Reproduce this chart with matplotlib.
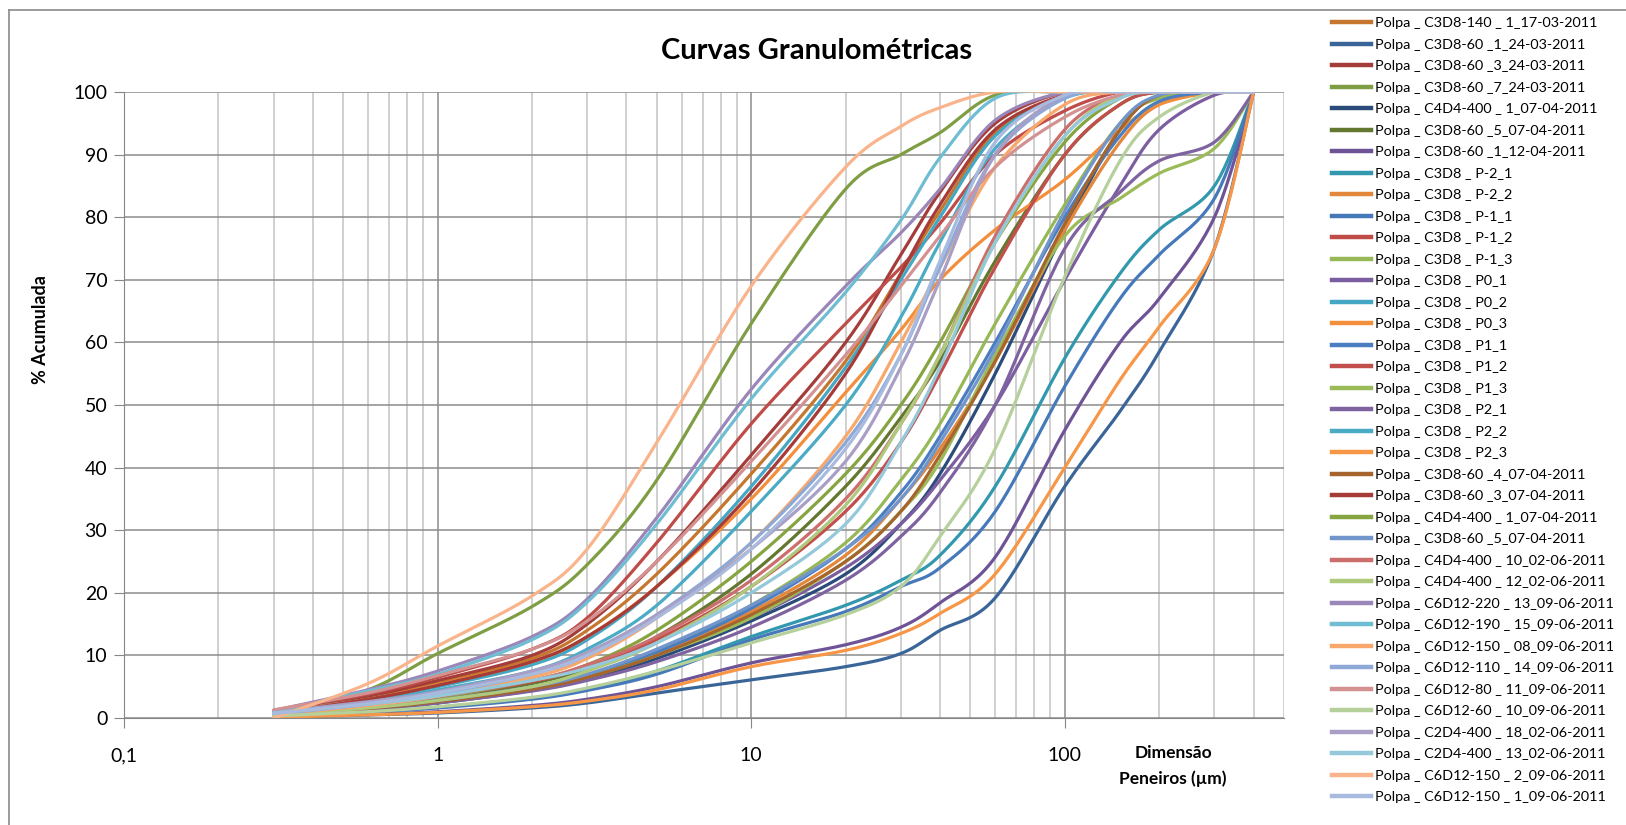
import numpy as np
import matplotlib
matplotlib.use('Agg')
import matplotlib.pyplot as plt
from matplotlib.lines import Line2D
from matplotlib.ticker import FixedLocator, FixedFormatter, NullFormatter

plt.rcParams['font.family'] = ['Lato', 'DejaVu Sans']

sizes = [0.3, 0.6, 1, 2, 3, 5, 10, 20, 30, 40, 60, 100, 150, 200, 300, 400]

labels = ['Polpa _ C3D8-140 _ 1_17-03-2011', 'Polpa _ C3D8-60 _1_24-03-2011', 'Polpa _ C3D8-60 _3_24-03-2011',
          'Polpa _ C3D8-60 _7_24-03-2011', 'Polpa _ C4D4-400 _ 1_07-04-2011', 'Polpa _ C3D8-60 _5_07-04-2011',
          'Polpa _ C3D8-60 _1_12-04-2011', 'Polpa _ C3D8 _ P-2_1', 'Polpa _ C3D8 _ P-2_2', 'Polpa _ C3D8 _ P-1_1',
          'Polpa _ C3D8 _ P-1_2', 'Polpa _ C3D8 _ P-1_3', 'Polpa _ C3D8 _ P0_1', 'Polpa _ C3D8 _ P0_2',
          'Polpa _ C3D8 _ P0_3', 'Polpa _ C3D8 _ P1_1', 'Polpa _ C3D8 _ P1_2', 'Polpa _ C3D8 _ P1_3',
          'Polpa _ C3D8 _ P2_1', 'Polpa _ C3D8 _ P2_2', 'Polpa _ C3D8 _ P2_3', 'Polpa _ C3D8-60 _4_07-04-2011',
          'Polpa _ C3D8-60 _3_07-04-2011', 'Polpa _ C4D4-400 _ 1_07-04-2011', 'Polpa _ C3D8-60 _5_07-04-2011',
          'Polpa _ C4D4-400 _ 10_02-06-2011', 'Polpa _ C4D4-400 _ 12_02-06-2011', 'Polpa _ C6D12-220 _ 13_09-06-2011',
          'Polpa _ C6D12-190 _ 15_09-06-2011', 'Polpa _ C6D12-150 _ 08_09-06-2011', 'Polpa _ C6D12-110 _ 14_09-06-2011',
          'Polpa _ C6D12-80 _ 11_09-06-2011', 'Polpa _ C6D12-60 _ 10_09-06-2011', 'Polpa _ C2D4-400 _ 18_02-06-2011',
          'Polpa _ C2D4-400 _ 13_02-06-2011', 'Polpa _ C6D12-150 _ 2_09-06-2011', 'Polpa _ C6D12-150 _ 1_09-06-2011']

colors = ['#C5762F', '#3A6599', '#A43D3A', '#7F9E44', '#2B4C7A', '#63772F', '#6E5496', '#3298AE', '#E3873A',
          '#4679BA', '#BF4C48', '#97B857', '#7C5EA0', '#44A7C3', '#F28E3C', '#4B7EC0', '#C24F4C', '#9BBB59',
          '#7F63A1', '#4AABC5', '#F79646', '#A5652D', '#A73B38', '#86A440', '#7295CB', '#CC6E6C', '#AEC97C',
          '#9A86B9', '#6FBDD2', '#F9A86B', '#8EA9D8', '#D39291', '#B6D09B', '#A99EC6', '#94C8DA', '#F9B48C',
          '#A8BADD']

# % acumulada for each sample (same order as labels)
c01 = [0.8, 3.2, 5.6, 9.5, 14, 23, 39, 57, 71, 81, 93.5, 99.5, 100, 100, 100, 100]
c02 = [0.1, 0.5, 0.8, 1.6, 2.4, 4.0, 6.1, 8.2, 10.3, 14, 19.2, 37, 49, 58.5, 75, 100]
c03 = [0.9, 3.5, 6.0, 10, 15, 25, 42, 60, 74, 84, 95, 100, 100, 100, 100, 100]
c04 = [0.5, 4.5, 10.3, 17.8, 24.5, 38, 63, 84.5, 90, 93.5, 99.5, 100, 100, 100, 100, 100]
c05 = [0.4, 1.4, 2.4, 4.4, 6.2, 9.5, 15.5, 23, 31, 39, 55, 78, 94, 99.5, 100, 100]
c06 = [0.5, 1.8, 3.0, 5.5, 8, 13, 23, 37, 48, 57, 73, 90, 98, 100, 100, 100]
c07 = [0.2, 0.6, 1.0, 2.0, 3.0, 5, 8.8, 11.7, 14.5, 18.4, 25.7, 46, 60, 67, 80, 100]
c08 = [0.3, 1.0, 1.7, 3.2, 4.6, 7.5, 13, 18, 22, 26, 37, 57.5, 71, 78, 85, 100]
c09 = [0.5, 1.6, 2.7, 4.8, 6.8, 10.5, 17, 26, 35, 43, 57, 78, 92, 98, 100, 100]
c10 = [0.3, 1.0, 1.6, 3.0, 4.4, 7, 12.5, 17, 21, 24, 33, 53, 67, 74, 83, 100]
c11 = [1.0, 3.8, 6.5, 11, 16, 28, 47, 63, 72, 79, 90, 97, 100, 100, 100, 100]
c12 = [0.4, 1.4, 2.5, 4.5, 6.5, 10.5, 18, 28, 38, 47, 63, 82, 95, 99, 100, 100]
c13 = [0.5, 1.5, 2.6, 4.7, 6.6, 10, 16, 24, 31, 38, 50, 70, 85, 94, 99.5, 100]
c14 = [0.8, 3.0, 5.0, 8.5, 12.5, 21, 37, 56, 70, 80, 93, 99.5, 100, 100, 100, 100]
c15 = [0.8, 3.0, 5.3, 9, 13, 21, 35, 52, 62, 70, 78, 86, 94, 98, 100, 100]
c16 = [0.5, 1.6, 2.7, 4.8, 6.8, 10.5, 17.5, 27, 36, 45, 60, 80, 93, 98.5, 100, 100]
c17 = [0.6, 2.0, 3.3, 5.8, 8.2, 12.5, 21, 33, 44, 55, 72, 90, 98, 100, 100, 100]
c18 = [0.4, 1.5, 2.5, 4.5, 6.5, 10, 16, 25, 33, 41, 58, 77, 83, 87, 91, 100]
c19 = [0.4, 1.4, 2.4, 4.3, 6, 9, 14.5, 22, 29, 36, 50, 75, 84, 89, 92, 100]
c20 = [0.6, 2.6, 4.5, 7.5, 11, 18, 33, 50, 64, 76, 91, 99, 100, 100, 100, 100]
c21 = [0.1, 0.5, 0.9, 1.8, 2.7, 4.5, 8.2, 10.8, 13.5, 16.7, 23, 40, 54, 62.5, 75, 100]
c22 = [0.4, 1.5, 2.6, 4.6, 6.5, 10, 16.5, 25, 33, 42, 57, 79, 94, 99.5, 100, 100]
c23 = [0.7, 3.0, 5.2, 9, 13, 21, 36, 55, 71, 82, 94, 99.5, 100, 100, 100, 100]
c24 = [0.5, 1.8, 3.2, 6, 8.5, 14, 25, 39, 50, 60, 76, 92, 99, 100, 100, 100]
c25 = [0.5, 1.7, 2.8, 5, 7, 11, 18, 27, 35, 44, 59, 81, 95, 99.5, 100, 100]
c26 = [0.6, 2.0, 3.4, 6, 8.5, 13, 22, 35, 47, 58, 77, 94, 99.5, 100, 100, 100]
c27 = [0.4, 1.6, 2.8, 5, 7.5, 12, 21, 34, 47, 58, 76, 93, 99.5, 100, 100, 100]
c28 = [1.2, 4.5, 7.5, 13, 19, 32, 52.5, 69, 77.5, 84.5, 95.5, 100, 100, 100, 100, 100]
c29 = [1.0, 4.3, 7.0, 12.5, 18.5, 31, 51, 68, 79.5, 89.5, 99, 100, 100, 100, 100, 100]
c30 = [0.5, 2.0, 3.5, 6.5, 9.5, 16, 28, 45, 60, 72, 88, 98, 100, 100, 100, 100]
c31 = [0.6, 2.2, 3.8, 7, 10, 16.5, 28, 44, 58, 72, 90, 99, 100, 100, 100, 100]
c32 = [1.3, 4.0, 6.8, 11, 15.5, 25, 41, 58, 69, 77, 88, 96, 99.5, 100, 100, 100]
c33 = [0.3, 1.0, 1.8, 3.3, 4.8, 7.5, 12, 16.5, 21, 29, 43, 70.5, 89, 96, 100, 100]
c34 = [0.9, 2.6, 4.2, 7.5, 10.5, 16.5, 27, 41, 56, 70, 90, 99.5, 100, 100, 100, 100]
c35 = [0.8, 2.2, 3.5, 6, 8, 12, 20, 31, 44, 56, 76, 93, 99, 100, 100, 100]
c36 = [0, 5.5, 11.5, 19.5, 27, 44, 69, 88, 94.5, 97.5, 100, 100, 100, 100, 100, 100]
c37 = [0.7, 2.3, 4.0, 7, 10, 16, 27, 43, 58, 73, 92, 99.5, 100, 100, 100, 100]

curves = [c01, c02, c03, c04, c05, c06, c07, c08, c09, c10, c11, c12, c13, c14, c15, c16, c17, c18, c19,
          c20, c21, c22, c23, c24, c25, c26, c27, c28, c29, c30, c31, c32, c33, c34, c35, c36, c37]


def smooth(xs, ys, n=24):
    # excel-like smoothed line: bezier through the points, done in log-x
    lx = np.log10(xs)
    y = np.asarray(ys, dtype=float)
    px = np.concatenate([[lx[0]], lx, [lx[-1]]])
    py = np.concatenate([[y[0]], y, [y[-1]]])
    outx, outy = [], []
    t = np.linspace(0, 1, n)
    for i in range(len(lx) - 1):
        p0 = np.array([lx[i], y[i]])
        p3 = np.array([lx[i + 1], y[i + 1]])
        p1 = p0 + (np.array([px[i + 2], py[i + 2]]) - np.array([px[i], py[i]])) / 6
        p2 = p3 - (np.array([px[i + 3], py[i + 3]]) - np.array([px[i + 1], py[i + 1]])) / 6
        bx = (1-t)**3*p0[0] + 3*(1-t)**2*t*p1[0] + 3*(1-t)*t**2*p2[0] + t**3*p3[0]
        by = (1-t)**3*p0[1] + 3*(1-t)**2*t*p1[1] + 3*(1-t)*t**2*p2[1] + t**3*p3[1]
        outx.append(bx)
        outy.append(by)
    return 10 ** np.concatenate(outx), np.concatenate(outy)


fig = plt.figure(figsize=(16.26, 8.25), dpi=100)
ax = fig.add_axes([124/1626, 1-718/825, (1284-124)/1626, (718-92)/825])

handles = []
for vals, col, lab in zip(curves, colors, labels):
    sx, sy = smooth(sizes, vals)
    ax.plot(sx, sy, color=col, lw=2.3, solid_capstyle='round')
    handles.append(Line2D([], [], color=col, lw=3.2))

ax.set_xscale('log')
ax.set_xlim(0.1, 500)
ax.set_ylim(0, 100)
ax.xaxis.set_major_locator(FixedLocator([0.1, 1, 10, 100]))
ax.xaxis.set_major_formatter(FixedFormatter(['0,1', '1', '10', '100']))
minor = [m * d for d in [0.1, 1, 10, 100] for m in range(2, 10) if m * d <= 500]
ax.xaxis.set_minor_locator(FixedLocator(minor))
ax.xaxis.set_minor_formatter(NullFormatter())
ax.set_yticks(range(0, 101, 10))

ax.grid(True, which='major', color='#8C8C8C', lw=1.1)
ax.grid(True, which='minor', axis='x', color='#C4C4C4', lw=1.1)
ax.set_axisbelow(True)
for s in ['top', 'right']:
    ax.spines[s].set_visible(False)
for s in ['left', 'bottom']:
    ax.spines[s].set_color('#868686')
ax.tick_params(which='major', length=7, color='#868686', labelsize=14, pad=5)
ax.tick_params(which='minor', length=0)
ax.tick_params(axis='x', pad=14)

# excel centres the title over the whole chart area
fig.text(817/1626, 1-51/825, 'Curvas Granulométricas', ha='center', va='center', fontsize=21, fontweight='bold')
fig.text(40/1626, 1-330/825, '% Acumulada', ha='center', va='center', rotation=90, fontsize=13, fontweight='bold')
fig.text(1173/1626, 1-753/825, 'Dimensão', ha='center', va='center', fontsize=12.5, fontweight='bold')
fig.text(1173/1626, 1-779/825, 'Peneiros (µm)', ha='center', va='center', fontsize=12.5, fontweight='bold')

fig.legend(handles, labels, loc='upper left', bbox_to_anchor=(1332/1626, 1-17/825), frameon=False,
           fontsize=10.4, handlelength=2.7, handletextpad=0.3, labelspacing=0.65, borderpad=0, borderaxespad=0)

# chart area border
fig.add_artist(Line2D([9/1626, 1], [1-10/825, 1-10/825], transform=fig.transFigure, color='#8A8A8A', lw=1.2))
fig.add_artist(Line2D([9/1626, 9/1626], [0, 1-10/825], transform=fig.transFigure, color='#8A8A8A', lw=1.2))

fig.savefig('out.png', dpi=100)
